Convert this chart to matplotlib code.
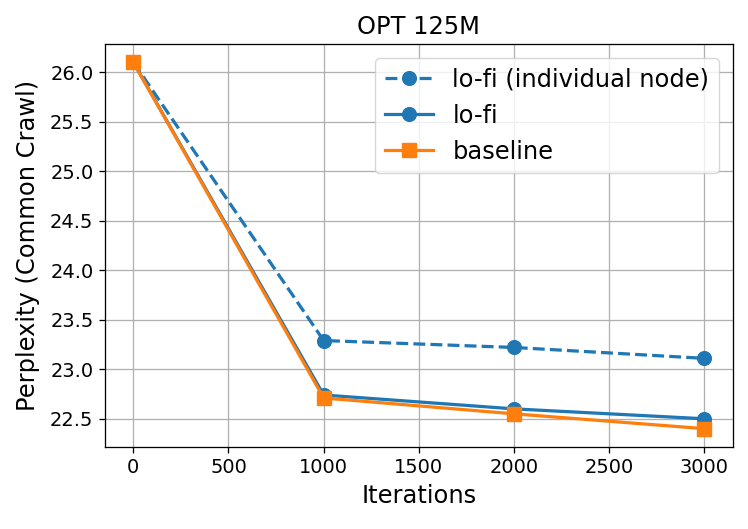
import matplotlib
matplotlib.use("Agg")
import matplotlib.pyplot as plt

iterations = [0, 1000, 2000, 3000]
lofi_individual = [26.1, 23.29, 23.22, 23.11]
lofi = [26.1, 22.74, 22.60, 22.50]
baseline = [26.1, 22.71, 22.55, 22.40]

s = 1.16
plt.rcParams['axes.linewidth'] = 0.8 * s
plt.rcParams['xtick.major.width'] = 0.8 * s
plt.rcParams['ytick.major.width'] = 0.8 * s
plt.rcParams['xtick.major.size'] = 3.5 * s
plt.rcParams['ytick.major.size'] = 3.5 * s
plt.rcParams['xtick.major.pad'] = 3.5 * s
plt.rcParams['ytick.major.pad'] = 3.5 * s

fig = plt.figure(figsize=(7.48, 5.29), dpi=100)
ax = fig.add_axes([0.140, 0.155, 0.840, 0.762])
ax.plot(iterations, lofi_individual, '--o', color='#1f77b4', lw=2 * s, ms=8.5 * s,
        label='lo-fi (individual node)')
ax.plot(iterations, lofi, '-o', color='#1f77b4', lw=2 * s, ms=8.5 * s, label='lo-fi')
ax.plot(iterations, baseline, '-s', color='#ff7f0e', lw=2 * s, ms=8.5 * s, label='baseline')
ax.grid(True, color='#b0b0b0', lw=0.8 * s)
ax.set_yticks([22.5, 23.0, 23.5, 24.0, 24.5, 25.0, 25.5, 26.0])
ax.tick_params(labelsize=12 * s)
ax.set_xlabel('Iterations', fontsize=15 * s, labelpad=4 * s)
ax.set_ylabel('Perplexity (Common Crawl)', fontsize=15 * s, labelpad=7)
ax.set_title('OPT 125M', fontsize=15 * s, pad=6 * s)
ax.legend(fontsize=15 * s, loc='upper right', borderaxespad=0.5 * s,
          borderpad=0.4, handlelength=2.0, labelspacing=0.5, handletextpad=0.8)
fig.savefig('out.png', dpi=100)
